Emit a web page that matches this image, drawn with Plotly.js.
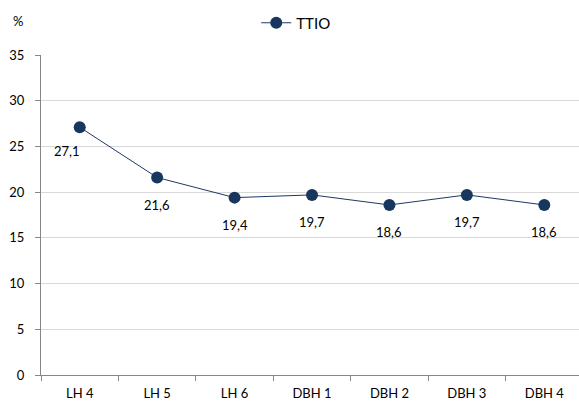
<!DOCTYPE html>
<html>
<head>
<meta charset="utf-8">
<script src="https://cdn.plot.ly/plotly-3.0.1.min.js"></script>
<style>
html,body{margin:0;padding:0;overflow:hidden;background:#fff;width:579px;height:403px;}
#chart{width:590px;height:403px;}
</style>
</head>
<body>
<div id="chart"></div>
<script>
const categories = ["LH 4", "LH 5", "LH 6", "DBH 1", "DBH 2", "DBH 3", "DBH 4"];
const ttio = [27.1, 21.6, 19.4, 19.7, 18.6, 19.7, 18.6];
const seriesName = "TTIO";
const yTicks = [0, 5, 10, 15, 20, 25, 30, 35];

const fontFam = "Lato, 'Open Sans', sans-serif";
const fmt = v => v.toFixed(1).replace(".", ",");

const annotations = categories.map((c, i) => ({
  x: c, y: ttio[i], xref: "x", yref: "y",
  text: fmt(ttio[i]), showarrow: false,
  xshift: i === 0 ? -13 : 0, yshift: i === 0 ? -24 : -27,
  font: {family: fontFam, size: 13, color: "#000"}
}));
annotations.push({
  xref: "paper", yref: "paper", x: -0.055, y: 1.105, xanchor: "left", yanchor: "middle",
  text: "%", showarrow: false, font: {family: fontFam, size: 13, color: "#000"}
});

const trace = {
  x: categories, y: ttio, name: seriesName, type: "scatter", mode: "lines+markers",
  line: {color: "#1F3864", width: 1},
  marker: {color: "#17375E", size: 12}
};

const layout = {
  width: 590, height: 403,
  margin: {l: 41, r: 7, t: 53, b: 28},
  paper_bgcolor: "#fff", plot_bgcolor: "#fff",
  showlegend: true,
  legend: {orientation: "h", x: 0.47, xanchor: "center", y: 1.1, yanchor: "middle",
           font: {family: fontFam, size: 15, color: "#000"}},
  xaxis: {
    type: "category", range: [-0.5, 6.5], automargin: false,
    showline: true, linecolor: "#868686", linewidth: 1,
    ticks: "outside", ticklen: 5, tickcolor: "#868686", tickson: "boundaries",
    showgrid: false, ticklabelstandoff: 6,
    tickfont: {family: fontFam, size: 13, color: "#000"}
  },
  yaxis: {
    range: [0, 35], tickvals: yTicks, automargin: false,
    showline: true, linecolor: "#868686", linewidth: 1,
    ticks: "outside", ticklen: 5, tickcolor: "#868686",
    showgrid: true, gridcolor: "#D9D9D9", gridwidth: 1, zeroline: false,
    ticklabelstandoff: 8,
    tickfont: {family: fontFam, size: 13, color: "#000"}
  },
  annotations: annotations
};

Plotly.newPlot("chart", [trace], layout, {displayModeBar: false, staticPlot: true});
</script>
</body>
</html>
